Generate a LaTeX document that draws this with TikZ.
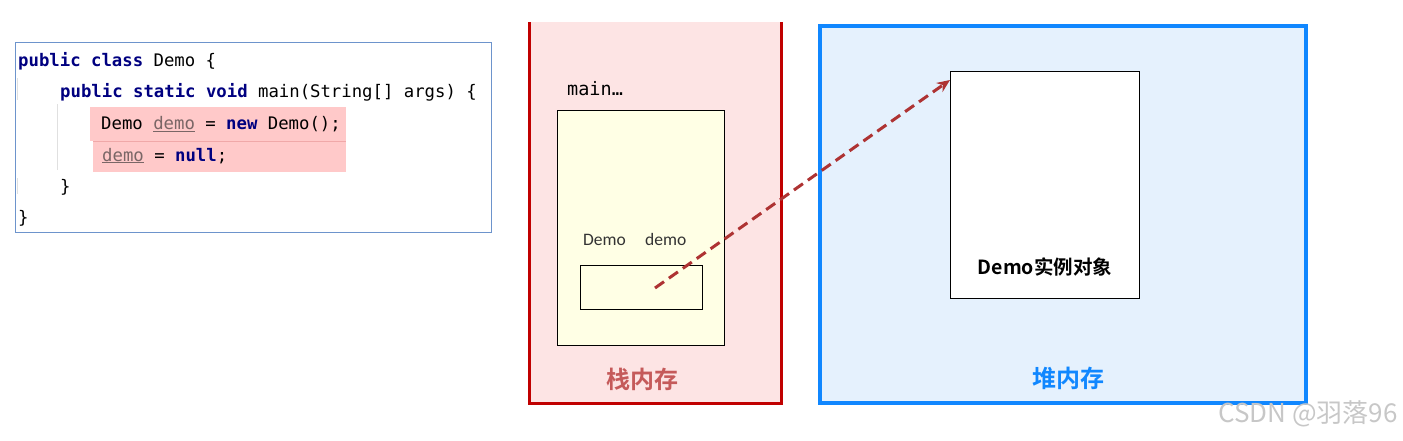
\documentclass[tikz,border=0pt]{standalone}
\usepackage{fontspec}
\usetikzlibrary{arrows.meta}
\setmonofont{DejaVu Sans Mono}
\newfontfamily\calfont{Carlito}
\newfontfamily\cjk{Noto Sans CJK SC}
\newfontfamily\cjkb{Noto Sans CJK SC Bold}
\definecolor{codeborder}{HTML}{6D94CC}
\definecolor{hl}{HTML}{FFC9C9}
\definecolor{hlline}{HTML}{F0A8A8}
\definecolor{kwc}{HTML}{000080}
\definecolor{dmc}{HTML}{7A6666}
\definecolor{stackfill}{HTML}{FDE4E4}
\definecolor{stackred}{HTML}{C00000}
\definecolor{stacklabel}{HTML}{C55A5A}
\definecolor{yel}{HTML}{FFFFE5}
\definecolor{heapfill}{HTML}{E5F1FD}
\definecolor{heapblue}{HTML}{1087FF}
\definecolor{arrowred}{HTML}{AE3333}
\definecolor{guide}{HTML}{E0E0E0}
\newcommand{\kw}[1]{\textcolor{kwc}{\bfseries #1}}
\newcommand{\dm}[1]{\textcolor{dmc}{\underline{#1}}}
\tikzset{
  codeline/.style={anchor=base west, inner sep=0pt, font=\ttfamily\fontsize{17.3}{20}\selectfont},
  boxnode/.style={draw=black, line width=1pt, anchor=north west, inner sep=0pt, outer sep=0pt},
  memlabel/.style={font=\cjkb\fontsize{24}{28}\selectfont, inner sep=0pt},
}
\begin{document}
\begin{tikzpicture}[x=1pt,y=-1pt]
\useasboundingbox (0,0) rectangle (1403,440);
% code panel
\node[draw=codeborder, line width=0.8pt, anchor=north west, minimum width=476pt, minimum height=190pt, inner sep=0pt, outer sep=0pt] (code) at (15,42) {};
\fill[hl] (90,107) rectangle (346,141);
\fill[hl] (93,141) rectangle (346,172);
\draw[hlline, line width=0.6pt] (93,141) -- (346,141);
\draw[guide, line width=0.8pt] (57,104) -- (57,170);
\draw[guide, line width=0.8pt] (17,78) -- (17,100);
\draw[guide, line width=0.8pt] (17,178) -- (17,194);
\node[codeline] (l1) at (18,66.5) {\kw{public} \kw{class} Demo \{};
\node[codeline] (l2) at (60,97.5) {\kw{public} \kw{static} \kw{void} main(String[] args) \{};
\node[codeline] (l3) at (101,129.5) {Demo \dm{demo} = \kw{new} Demo();};
\node[codeline] (l4) at (102,161) {\dm{demo} = \kw{null};};
\node[codeline] (l5) at (60,192.5) {\}};
\node[codeline] (l6) at (18,223.5) {\}};
% stack
\fill[stackfill] (529,22) rectangle (781,403);
\draw[stackred, line width=3pt] (529,22) -- (529,403) -- (781,403) -- (781,22);
\node[codeline, font=\ttfamily\fontsize{18.5}{22}\selectfont] (mainlbl) at (567,95) {main…};
\node[boxnode, fill=yel, minimum width=167pt, minimum height=235pt] (frame) at (557,110) {};
\node[anchor=base west, inner sep=0pt, font=\calfont\fontsize{17.5}{20}\selectfont, text={black!80}] (vt) at (583,245) {Demo};
\node[anchor=base west, inner sep=0pt, font=\calfont\fontsize{17.5}{20}\selectfont, text={black!80}] (vn) at (645,245) {demo};
\node[boxnode, fill=yel, minimum width=122pt, minimum height=44pt] (var) at (580,265) {};
\node[memlabel, text=stacklabel] (stk) at (642,379) {栈内存};
% heap
\node[draw=heapblue, fill=heapfill, line width=4pt, anchor=north west, minimum width=486pt, minimum height=377pt, inner sep=0pt, outer sep=0pt] (heap) at (820,26) {};
\node[boxnode, fill=white, minimum width=189pt, minimum height=227pt] (obj) at (950,71) {};
\node[font=\cjkb\fontsize{19.5}{23}\selectfont, inner sep=0pt] (objlbl) at (1045,267) {Demo实例对象};
\node[memlabel, text=heapblue] (hp) at (1068,378) {堆内存};
% reference arrow
\coordinate (refstart) at (655,288);
\coordinate (refend) at (950,80);
\draw[arrowred, line width=3pt, dash pattern=on 11pt off 6pt, -{Stealth[length=13pt, width=11pt]}] (refstart) -- (refend);
% watermark
\node[anchor=base east, inner sep=0pt, font=\cjk\fontsize{26}{30}\selectfont, text={black!22}] (wm) at (1398,422) {CSDN @羽落96};
\end{tikzpicture}
\end{document}
